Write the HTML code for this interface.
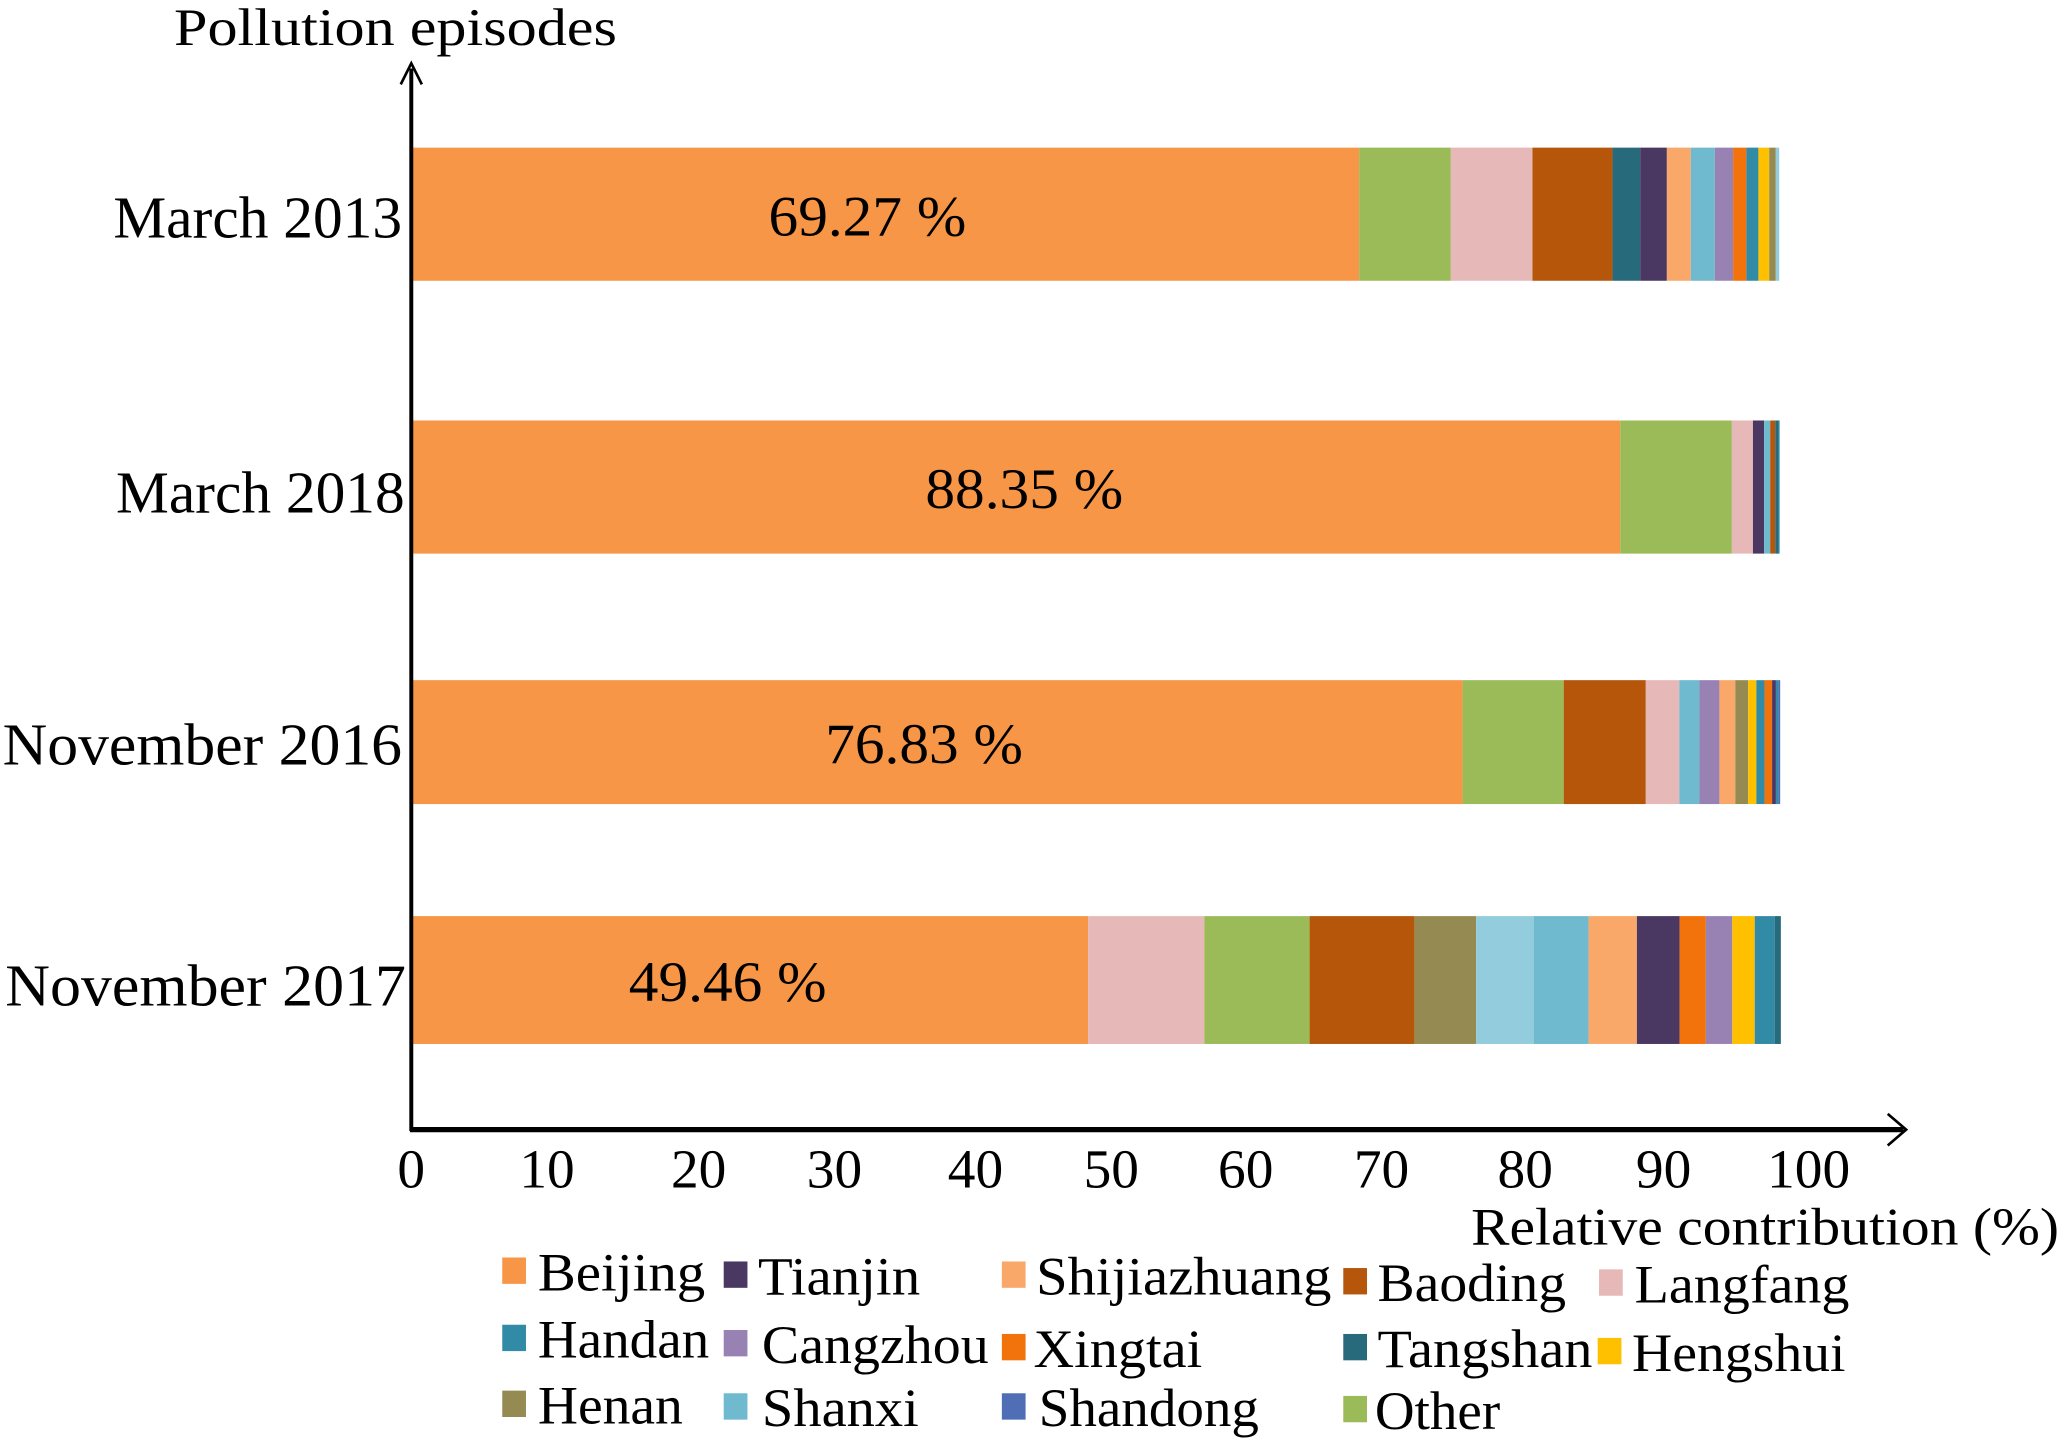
<!DOCTYPE html>
<html><head><meta charset="utf-8"><style>
html,body{margin:0;padding:0;background:#fff;}
svg{display:block;font-family:"Liberation Serif",serif;}
</style></head><body>
<svg id="chart" width="2067" height="1446" viewBox="0 0 1568 1097" preserveAspectRatio="none" xmlns="http://www.w3.org/2000/svg">
<g id="bars"></g>
<g id="axes">
<line x1="312" y1="52" x2="312" y2="858" stroke="#000" stroke-width="3"/>
<polyline points="304,64 312,48 320,64" fill="none" stroke="#000" stroke-width="2"/>
<line x1="311" y1="857" x2="1444" y2="857" stroke="#000" stroke-width="4"/>
<polyline points="1432,845 1446,857 1432,869" fill="none" stroke="#000" stroke-width="2"/>
<text x="132" y="34" font-size="40" textLength="336" lengthAdjust="spacingAndGlyphs">Pollution episodes</text>
<text x="1116" y="944" font-size="40" textLength="446" lengthAdjust="spacingAndGlyphs">Relative contribution (%)</text>
</g>
<g id="ticks"></g>
<g id="cats"></g>
<g id="legend"></g>
</svg>
<script>
const categories = ["March 2013","March 2018","November 2016","November 2017"];
const beijingLabels = ["69.27 %","88.35 %","76.83 %","49.46 %"];
const bar1Order = ["Beijing","Other","Langfang","Baoding","Tangshan","Tianjin","Shijiazhuang","Shanxi","Cangzhou","Xingtai","Handan","Hengshui","Henan","Shanxi-light"];
const bar1Values = [69.27,6.70,5.97,5.85,2.02,1.95,1.75,1.75,1.34,0.97,0.88,0.79,0.48,0.25];
const bar2Order = ["Beijing","Other","Langfang","Tianjin","Shanxi","Baoding","Tangshan","Handan"];
const bar2Values = [88.35,8.16,1.54,0.82,0.44,0.37,0.24,0.08];
const bar3Order = ["Beijing","Other","Baoding","Langfang","Shanxi","Cangzhou","Shijiazhuang","Henan","Hengshui","Handan","Xingtai","Tianjin","Handan","Shandong"];
const bar3Values = [76.83,7.39,6.00,2.45,1.47,1.46,1.16,0.94,0.60,0.60,0.55,0.28,0.18,0.13];
const bar4Order = ["Beijing","Langfang","Other","Baoding","Henan","Shanxi-light","Shanxi","Shijiazhuang","Tianjin","Xingtai","Cangzhou","Hengshui","Handan","Tangshan"];
const bar4Values = [49.46,8.50,7.69,7.66,4.51,4.23,3.99,3.53,3.12,1.92,1.93,1.64,1.46,0.45];
const xTicks = ["0","10","20","30","40","50","60","70","80","90","100"];
const legendNames = ["Beijing","Tianjin","Shijiazhuang","Baoding","Langfang","Handan","Cangzhou","Xingtai","Tangshan","Hengshui","Henan","Shanxi","Shandong","Other"];

const colors = {"Beijing":"#F79646","Other":"#9BBB59","Langfang":"#E6B8B7","Baoding":"#B6560A","Tangshan":"#266A7C","Tianjin":"#4B3862","Shijiazhuang":"#F9A869","Shanxi":"#6FBACF","Cangzhou":"#9882B4","Xingtai":"#F2720C","Handan":"#328BA6","Hengshui":"#FFC000","Henan":"#958B52","Shanxi-light":"#93CDDD","Shandong":"#4F6EB5"};
const NS="http://www.w3.org/2000/svg";
const X0=312, X100=1350;
function xScale(v){return X0+(X100-X0)*v/100;}
const barTop=[112,319,516,695], barBot=[213,420,610,792];
const catY=[180,389,580,763], catX=[305,307,305,308], catW=[219,219,303,304];
const labelX=[658,777,701,552];
const orders=[bar1Order,bar2Order,bar3Order,bar4Order];
const vals=[bar1Values,bar2Values,bar3Values,bar4Values];
const gb=document.getElementById('bars');
for(let i=0;i<categories.length;i++){
  let acc=0;
  for(let j=0;j<vals[i].length;j++){
    const r=document.createElementNS(NS,'rect');
    const x1=xScale(acc), x2=xScale(acc+vals[i][j]);
    r.setAttribute('x',x1);r.setAttribute('width',Math.max(0,x2-x1));
    r.setAttribute('y',barTop[i]);r.setAttribute('height',barBot[i]-barTop[i]);
    r.setAttribute('fill',colors[orders[i][j]]);
    
    
    gb.appendChild(r);
    acc+=vals[i][j];
  }
  const t=document.createElementNS(NS,'text');
  t.setAttribute('x',labelX[i]-75);t.setAttribute('y',(barTop[i]+barBot[i])/2+16);
  t.setAttribute('font-size','43');
  t.setAttribute('textLength','150');t.setAttribute('lengthAdjust','spacingAndGlyphs');
  t.textContent=beijingLabels[i];
  
  
  gb.appendChild(t);
  const c=document.createElementNS(NS,'text');
  c.setAttribute('x',catX[i]-catW[i]);c.setAttribute('y',catY[i]);c.setAttribute('font-size','45');
  c.setAttribute('textLength',catW[i]);c.setAttribute('lengthAdjust','spacingAndGlyphs');
  c.textContent=categories[i];
  
  
  document.getElementById('cats').appendChild(c);
}
const tickX=[312,415,530,633,740,843,945,1048,1157,1262,1372];
const gt=document.getElementById('ticks');
for(let k=0;k<xTicks.length;k++){
  const t=document.createElementNS(NS,'text');
  t.setAttribute('x',tickX[k]);t.setAttribute('y',901);t.setAttribute('font-size','42');t.setAttribute('text-anchor','middle');
  t.textContent=xTicks[k];
  
  
  gt.appendChild(t);
}
const legPos=[[381,408,979,127],[549,575,982,123],[760,786,982,224],[1019,1045,987,143],[1213,1240,988,163],[381,408,1030,130],[549,578,1034,172],[760,784,1037,128],[1019,1045,1037,163],[1212,1238,1040,162],[381,408,1080,110],[549,578,1082,119],[760,788,1082,167],[1019,1043,1084,95]];
const gl=document.getElementById('legend');
for(let k=0;k<legendNames.length;k++){
  const p=legPos[k];
  const r=document.createElementNS(NS,'rect');
  r.setAttribute('x',p[0]);r.setAttribute('y',p[2]-25);r.setAttribute('width',18);r.setAttribute('height',20);
  r.setAttribute('fill',colors[legendNames[k]]);
  
  
  gl.appendChild(r);
  const t=document.createElementNS(NS,'text');
  t.setAttribute('x',p[1]);t.setAttribute('y',p[2]);t.setAttribute('font-size','41');
  t.setAttribute('textLength',p[3]);t.setAttribute('lengthAdjust','spacingAndGlyphs');
  t.textContent=legendNames[k];
  
  
  gl.appendChild(t);
}
</script>
</body></html>
